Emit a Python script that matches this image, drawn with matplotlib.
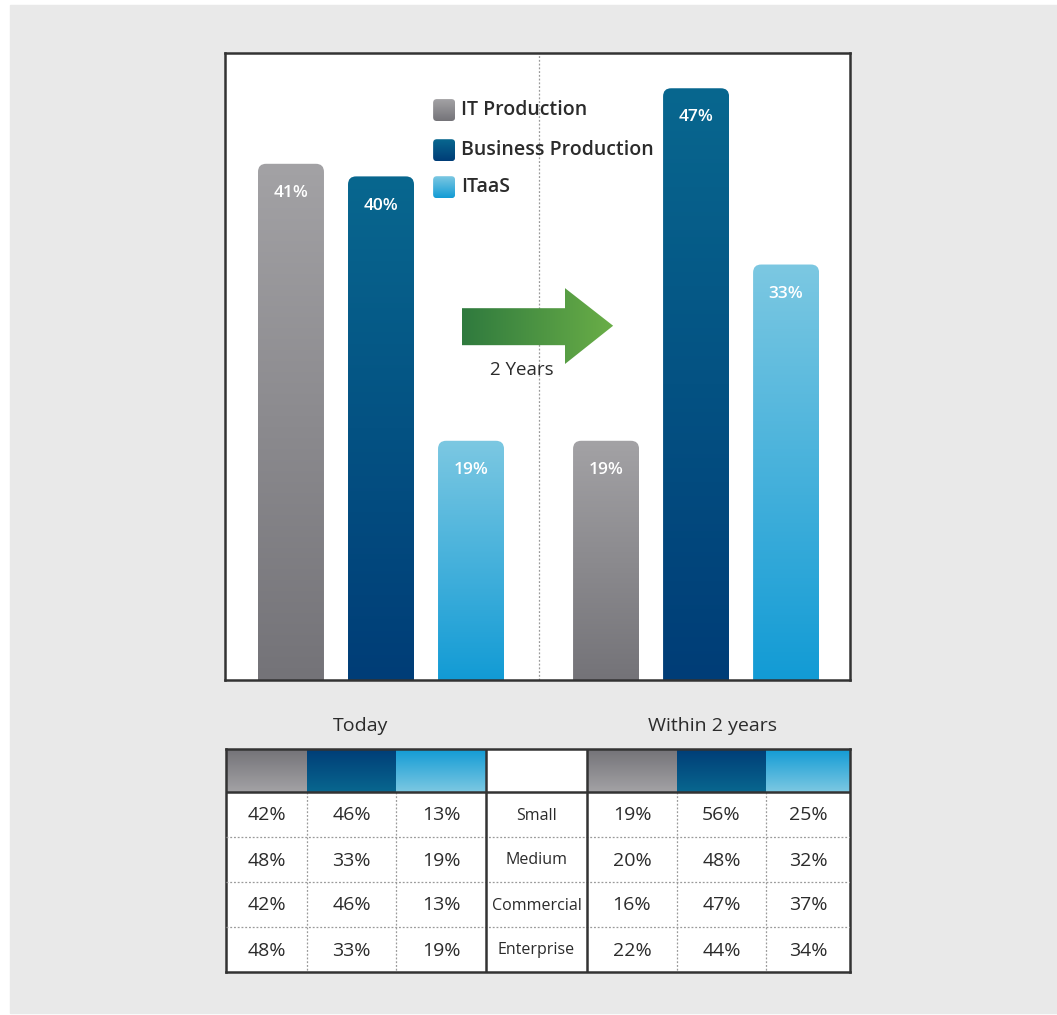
import numpy as np
import matplotlib.pyplot as plt
from matplotlib.patches import FancyBboxPatch, Polygon, Rectangle
from matplotlib.colors import LinearSegmentedColormap

plt.rcParams['font.family'] = ['Open Sans', 'DejaVu Sans']

series = ["IT Production", "Business Production", "ITaaS"]
today = [41, 40, 19]
within_2y = [19, 47, 33]

sizes = ["Small", "Medium", "Commercial", "Enterprise"]
today_by_size = [[42, 46, 13], [48, 33, 19], [42, 46, 13], [48, 33, 19]]
future_by_size = [[19, 56, 25], [20, 48, 32], [16, 47, 37], [22, 44, 34]]

# (top, bottom) colour of each series
grad = [("#a3a2a5", "#747378"), ("#08678f", "#003d77"), ("#7cc8e2", "#129bd5")]
arrow_cols = ("#2f7a3e", "#6aae47")
txt = "#2b2b2b"


def ramp(c0, c1, horizontal=False, n=256):
    cmap = LinearSegmentedColormap.from_list("g", [c0, c1])
    rgba = cmap(np.linspace(0, 1, n))
    return rgba[None, :, :] if horizontal else rgba[:, None, :]


def gradient_fill(ax, patch, extent, c0, c1, horizontal=False, transform=None):
    # c0 = bottom/left colour, c1 = top/right colour
    patch.set_facecolor("none")
    patch.set_edgecolor("none")
    ax.add_patch(patch)
    im = ax.imshow(ramp(c0, c1, horizontal), extent=extent, origin="lower",
                   aspect="auto", interpolation="bilinear", zorder=2,
                   transform=transform if transform is not None else ax.transData)
    im.set_clip_path(patch)
    return im


fig = plt.figure(figsize=(10.57, 10.15), dpi=100, facecolor="white")
fig.add_artist(Rectangle((10 / 1057, 2 / 1015), 1, 1008 / 1015,
                         transform=fig.transFigure, color="#e9e9e9", zorder=-5))

# ---- bar chart ----
ax = fig.add_axes([225 / 1057, 335 / 1015, 625 / 1057, 627 / 1015])
ax.set_facecolor("white")

x_today = np.arange(3)
x_future = np.arange(3) + 3.5
w = 0.733
for xs, vals in ((x_today, today), (x_future, within_2y)):
    for x, v, (top, bot) in zip(xs, vals, grad):
        patch = FancyBboxPatch((x - w / 2, -3), w, v + 3,
                               boxstyle="round,pad=0,rounding_size=0.09",
                               mutation_aspect=7.2)
        gradient_fill(ax, patch, (x - w / 2, x + w / 2, 0, v), bot, top)
        ax.annotate(f"{v}%", (x, v), xytext=(0, -21), textcoords="offset points",
                    ha="center", va="center", color="white", fontsize=12.5,
                    fontweight="semibold", zorder=4)

ax.axvline(2.75, color="#9a9a9a", lw=0.9, ls=(0, (1.5, 1.5)), zorder=1)

# legend swatches
leg_y = [0.909, 0.845, 0.786]
for yc, name, (top, bot) in zip(leg_y, series, grad):
    sw = FancyBboxPatch((0.333, yc - 0.0175), 0.0352, 0.035,
                        boxstyle="round,pad=0,rounding_size=0.006",
                        mutation_aspect=1.0, transform=ax.transAxes)
    gradient_fill(ax, sw, (0.333, 0.3682, yc - 0.0175, yc + 0.0175), bot, top,
                  transform=ax.transAxes)
    ax.text(0.3776, yc, name, transform=ax.transAxes, ha="left", va="center",
            fontsize=14, fontweight="semibold", color=txt, zorder=4)

# arrow
arrow = Polygon([(0.379, 0.534), (0.544, 0.534), (0.544, 0.504), (0.621, 0.565),
                 (0.544, 0.625), (0.544, 0.593), (0.379, 0.593)],
                closed=True, transform=ax.transAxes)
gradient_fill(ax, arrow, (0.379, 0.621, 0.504, 0.625), arrow_cols[0], arrow_cols[1],
              horizontal=True, transform=ax.transAxes)
ax.text(0.475, 0.494, "2 Years", transform=ax.transAxes, ha="center", va="center",
        fontsize=13.5, color=txt, zorder=4)

ax.set_xlim(-0.733, 6.21)
ax.set_ylim(0, 49.8)
ax.set_xticks([])
ax.set_yticks([])
for s in ax.spines.values():
    s.set_color("#333333")
    s.set_linewidth(1.8)

# ---- table ----
fig.text(361 / 1057, 1 - 726 / 1015, "Today", ha="center", va="center",
         fontsize=14, color=txt)
fig.text(713 / 1057, 1 - 726 / 1015, "Within 2 years", ha="center", va="center",
         fontsize=14, color=txt)

tab = fig.add_axes([226 / 1057, 43 / 1015, 624 / 1057, 223 / 1015])
tab.set_facecolor("white")
cols = [0, 81, 170, 260, 361, 451, 540, 624]
rows = [0, 43, 88, 133, 178, 223]

for group in (0, 4):
    for j, (top, bot) in enumerate(grad):
        x0, x1 = cols[group + j], cols[group + j + 1]
        cell = Rectangle((x0, rows[0]), x1 - x0, rows[1])
        gradient_fill(tab, cell, (x0, x1, rows[1], rows[0]), top, bot)

for i, name in enumerate(sizes):
    yc = (rows[i + 1] + rows[i + 2]) / 2
    cells = today_by_size[i] + [None] + future_by_size[i]
    for j, v in enumerate(cells):
        xc = (cols[j] + cols[j + 1]) / 2
        if v is None:
            tab.text(xc, yc + 1, name, ha="center", va="center", fontsize=11.5, color=txt)
        else:
            tab.text(xc, yc + 1, f"{v}%", ha="center", va="center", fontsize=14, color=txt)

dot = dict(color="#9a9a9a", lw=0.9, ls=(0, (1.5, 1.5)), zorder=3)
for x in (cols[1], cols[2], cols[5], cols[6]):
    tab.plot([x, x], [rows[1], rows[-1]], **dot)
for y in rows[2:-1]:
    tab.plot([cols[0], cols[-1]], [y, y], **dot)
solid = dict(color="#333333", lw=1.8, zorder=5)
for x in (cols[3], cols[4]):
    tab.plot([x, x], [rows[0], rows[-1]], **solid)
tab.plot([cols[0], cols[-1]], [rows[1], rows[1]], **solid)

tab.set_xlim(0, 624)
tab.set_ylim(223, 0)
tab.set_xticks([])
tab.set_yticks([])
for s in tab.spines.values():
    s.set_color("#333333")
    s.set_linewidth(1.8)

fig.savefig("out.png", dpi=100, facecolor=fig.get_facecolor())
